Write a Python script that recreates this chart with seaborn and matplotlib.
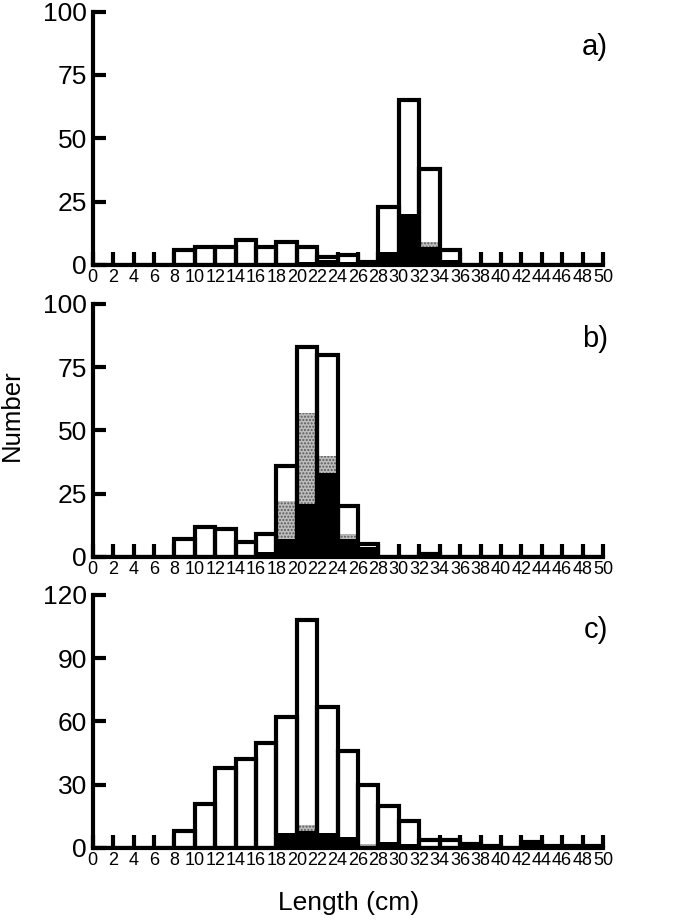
import numpy as np
import pandas as pd
import seaborn as sns
import matplotlib.pyplot as plt
from matplotlib import font_manager

# length classes (cm), 2 cm bins from 0 to 50
bin_mids = np.arange(1, 50, 2)
xticks = np.arange(0, 52, 2)

# a)
a_total = [0, 0, 0, 0, 6, 7, 7, 10, 7, 9, 7, 3, 4, 1, 23, 65, 38, 6, 0, 0, 0, 0, 0, 0, 0]
a_grey = [0, 0, 0, 0, 0, 0, 0, 0, 0, 0, 0, 0, 0, 0, 0, 0, 2, 0, 0, 0, 0, 0, 0, 0, 0]
a_black = [0, 0, 0, 0, 0, 0, 0, 0, 0, 0, 1, 2, 1, 1, 5, 20, 7, 2, 0, 0, 0, 0, 0, 0, 0]

# b)
b_total = [0, 0, 0, 0, 7, 12, 11, 6, 9, 36, 83, 80, 20, 5, 0, 0, 1, 0, 0, 0, 0, 0, 0, 0, 0]
b_grey = [0, 0, 0, 0, 0, 0, 0, 0, 0, 15, 36, 7, 2, 0, 0, 0, 0, 0, 0, 0, 0, 0, 0, 0, 0]
b_black = [0, 0, 0, 0, 0, 0, 0, 0, 2, 7, 21, 33, 7, 4, 0, 0, 1, 0, 0, 0, 0, 0, 0, 0, 0]

# c)
c_total = [0, 0, 0, 0, 8, 21, 38, 42, 50, 62, 108, 67, 46, 30, 20, 13, 4, 4, 2, 1, 0, 3, 1, 1, 1]
c_grey = [0, 0, 0, 0, 0, 0, 0, 0, 0, 0, 3, 0, 0, 1, 0, 0, 0, 0, 0, 0, 0, 0, 0, 0, 0]
c_black = [0, 0, 0, 0, 0, 0, 0, 0, 1, 7, 8, 7, 5, 1, 3, 2, 1, 1, 1, 1, 0, 3, 1, 1, 1]

panel_labels = ['a)', 'b)', 'c)']
y_ticks = [[0, 25, 50, 75, 100], [0, 25, 50, 75, 100], [0, 30, 60, 90, 120]]

sns.set_style('ticks')
plt.rcParams['font.family'] = ['Liberation Sans', 'DejaVu Sans']
plt.rcParams['hatch.linewidth'] = 1.0
plt.rcParams['text.color'] = 'black'
plt.rcParams['axes.edgecolor'] = 'black'
plt.rcParams['xtick.color'] = 'black'
plt.rcParams['ytick.color'] = 'black'

# x tick labels in the original are condensed
installed = {f.name for f in font_manager.fontManager.ttflist}
if 'Liberation Sans Narrow' in installed:
    xfont, xsize = 'Liberation Sans Narrow', 14
else:
    xfont, xsize = 'Liberation Sans', 13

fig = plt.figure(figsize=(6.75, 9.22), dpi=100)
ax_a = fig.add_axes([0.1373, 0.7126, 0.756, 0.2749])
ax_b = fig.add_axes([0.1373, 0.3959, 0.756, 0.2744])
ax_c = fig.add_axes([0.1373, 0.0803, 0.756, 0.2744])

panels = [
    (ax_a, a_total, a_grey, a_black),
    (ax_b, b_total, b_grey, b_black),
    (ax_c, c_total, c_grey, c_black),
]

hist_kw = dict(binwidth=2, binrange=(0, 50))

for i, (ax, total, grey, black) in enumerate(panels):
    df = pd.DataFrame({'mid': bin_mids, 'total': total, 'black': black})
    df['grey_top'] = df['black'] + np.array(grey)

    # white bars
    sns.histplot(data=df, x='mid', weights='total', ax=ax, **hist_kw,
                 color='white', alpha=1, linewidth=0, edgecolor='none')
    # stippled grey part (drawn up to black+grey)
    sns.histplot(data=df, x='mid', weights='grey_top', ax=ax, **hist_kw,
                 color='#bdbdbd', alpha=1, linewidth=0, edgecolor='#5a5a5a',
                 hatch='.....')
    # black part
    sns.histplot(data=df, x='mid', weights='black', ax=ax, **hist_kw,
                 color='black', alpha=1, linewidth=0, edgecolor='none')
    # outline of total
    sns.histplot(data=df, x='mid', weights='total', ax=ax, **hist_kw,
                 fill=False, color='black', linewidth=3)

    ax.set_xlim(0, 50)
    ax.set_ylim(0, y_ticks[i][-1])
    ax.set_xticks(xticks)
    ax.set_xticklabels([str(t) for t in xticks], family=xfont, fontsize=xsize)
    ax.set_yticks(y_ticks[i])
    ax.set_xlabel('')
    ax.set_ylabel('')
    for s in ['top', 'right']:
        ax.spines[s].set_visible(False)
    for s in ['left', 'bottom']:
        ax.spines[s].set_linewidth(3)
        ax.spines[s].set_zorder(5)
    ax.tick_params(axis='x', direction='in', length=9.5, width=3, pad=3)
    ax.tick_params(axis='y', direction='in', length=9, width=3,
                   labelsize=19, pad=4)
    ax.text(1.01, 0.86, panel_labels[i], transform=ax.transAxes,
            ha='right', va='center', fontsize=21)

fig.text(0.018, 0.55, 'Number', rotation=90, ha='center', va='center', fontsize=18.5)
fig.text(0.516, 0.021, 'Length (cm)', ha='center', va='center', fontsize=19)

fig.savefig('out.png', dpi=100)
